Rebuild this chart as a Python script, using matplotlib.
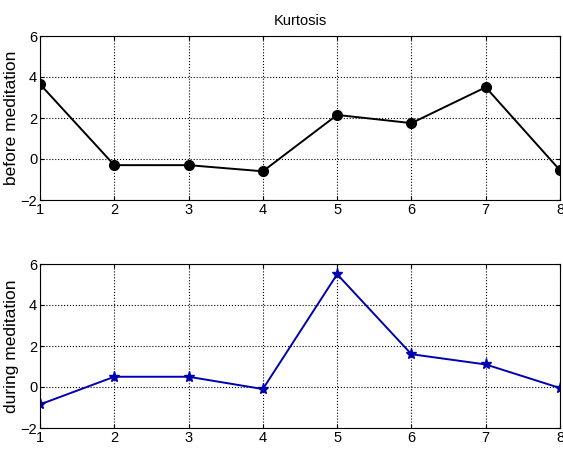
import matplotlib
matplotlib.use('Agg')
import matplotlib.pyplot as plt

plt.rcParams['font.family'] = ['Liberation Sans', 'DejaVu Sans']

x = [1, 2, 3, 4, 5, 6, 7, 8]
before = [3.65, -0.3, -0.3, -0.6, 2.15, 1.75, 3.5, -0.55]
during = [-0.85, 0.5, 0.5, -0.1, 5.5, 1.6, 1.1, -0.05]
yticks = [-2, 0, 2, 4, 6]

fig = plt.figure(figsize=(5.63, 4.5), dpi=100)
ax1 = fig.add_axes([40 / 563, 1 - 200 / 450, 520 / 563, 164 / 450])
ax2 = fig.add_axes([40 / 563, 1 - 428 / 450, 520 / 563, 164 / 450])

ax1.plot(x, before, color='black', marker='o', markersize=7, linewidth=1.4)
ax2.plot(x, during, color='#0000b0', marker='*', markersize=8, linewidth=1.4)

for ax, lab in [(ax1, 'before meditation'), (ax2, 'during meditation')]:
    ax.set_xlim(1, 8)
    ax.set_ylim(-2, 6)
    ax.set_yticks(yticks)
    ax.set_xticks(x)
    ax.grid(True, linestyle=':', color='black', linewidth=0.8)
    ax.tick_params(direction='in', labelsize=10.5, length=3, pad=2,
                   top=True, right=True)
    ax.set_ylabel(lab, fontsize=12.5, labelpad=1)
    for s in ax.spines.values():
        s.set_linewidth(0.8)

ax1.set_title('Kurtosis', fontsize=10.5, pad=8)

fig.savefig('out.png', dpi=100)
